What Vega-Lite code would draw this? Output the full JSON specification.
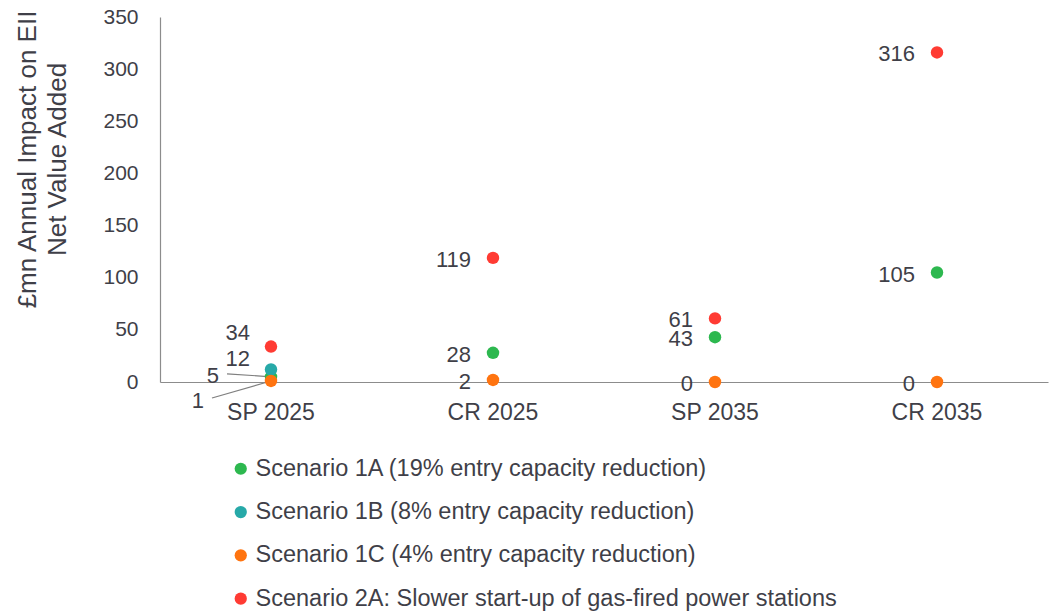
{
  "$schema": "https://vega.github.io/schema/vega-lite/v6.json",
  "autosize": {"type": "none"},
  "padding": {"left": 160, "top": 17, "right": 2, "bottom": 232},
  "width": 888,
  "height": 365,
  "background": "white",
  "config": {
    "view": {"stroke": null},
    "font": "Liberation Sans",
    "axis": {
      "domainColor": "#8c8c8c",
      "domainWidth": 1.2,
      "ticks": false,
      "grid": false,
      "labelColor": "#3f3f48",
      "labelFont": "Liberation Sans",
      "titleFont": "Liberation Sans",
      "titleColor": "#3f3f48",
      "titleFontWeight": "normal"
    },
    "legend": {
      "labelFont": "Liberation Sans",
      "labelColor": "#3f3f48"
    }
  },
  "data": {
    "values": [
      {"period": "SP 2025", "scenario": "Scenario 1A (19% entry capacity reduction)", "value": 5},
      {"period": "SP 2025", "scenario": "Scenario 1B (8% entry capacity reduction)", "value": 12},
      {"period": "SP 2025", "scenario": "Scenario 1C (4% entry capacity reduction)", "value": 1},
      {"period": "SP 2025", "scenario": "Scenario 2A: Slower start-up of gas-fired power stations", "value": 34},
      {"period": "CR 2025", "scenario": "Scenario 1A (19% entry capacity reduction)", "value": 28},
      {"period": "CR 2025", "scenario": "Scenario 1C (4% entry capacity reduction)", "value": 2},
      {"period": "CR 2025", "scenario": "Scenario 2A: Slower start-up of gas-fired power stations", "value": 119},
      {"period": "SP 2035", "scenario": "Scenario 1A (19% entry capacity reduction)", "value": 43},
      {"period": "SP 2035", "scenario": "Scenario 1C (4% entry capacity reduction)", "value": 0},
      {"period": "SP 2035", "scenario": "Scenario 2A: Slower start-up of gas-fired power stations", "value": 61},
      {"period": "CR 2035", "scenario": "Scenario 1A (19% entry capacity reduction)", "value": 105},
      {"period": "CR 2035", "scenario": "Scenario 1C (4% entry capacity reduction)", "value": 0},
      {"period": "CR 2035", "scenario": "Scenario 2A: Slower start-up of gas-fired power stations", "value": 316}
    ]
  },
  "encoding": {
    "x": {
      "field": "period",
      "type": "nominal",
      "sort": ["SP 2025", "CR 2025", "SP 2035", "CR 2035"],
      "scale": {"paddingInner": 0, "paddingOuter": 0},
      "axis": {"title": null, "labelAngle": 0, "labelFontSize": 23, "labelPadding": 19}
    },
    "y": {
      "field": "value",
      "type": "quantitative",
      "scale": {"domain": [0, 350], "nice": false},
      "axis": {
        "values": [0, 50, 100, 150, 200, 250, 300, 350],
        "labelFontSize": 21,
        "labelPadding": 22,
        "title": ["£mn Annual Impact on EII", "Net Value Added"],
        "titleFontSize": 26,
        "titleLineHeight": 30,
        "titleAngle": -90,
        "titleAlign": "center",
        "titleBaseline": "top",
        "titleX": -146,
        "titleY": 142
      }
    }
  },
  "layer": [
    {
      "transform": [{"filter": "datum.period === 'SP 2025' && indexof(datum.scenario, '1A') >= 0"}],
      "mark": {"type": "rule", "color": "#7f7f7f", "strokeWidth": 1.2, "x2Offset": -44, "y2Offset": -3},
      "encoding": {"x2": {"field": "period"}, "y2": {"field": "value"}}
    },
    {
      "transform": [{"filter": "datum.period === 'SP 2025' && indexof(datum.scenario, '1C') >= 0"}],
      "mark": {"type": "rule", "color": "#7f7f7f", "strokeWidth": 1.2, "x2Offset": -59, "y2Offset": 17},
      "encoding": {"x2": {"field": "period"}, "y2": {"field": "value"}}
    },
    {
      "mark": {"type": "point", "filled": true, "opacity": 1, "size": 155, "shape": "circle"},
      "encoding": {
        "color": {
          "field": "scenario",
          "type": "nominal",
          "scale": {
            "domain": [
              "Scenario 1A (19% entry capacity reduction)",
              "Scenario 1B (8% entry capacity reduction)",
              "Scenario 1C (4% entry capacity reduction)",
              "Scenario 2A: Slower start-up of gas-fired power stations"
            ],
            "range": ["#2db84f", "#27a9a8", "#ff7410", "#ff3b33"]
          },
          "legend": {
            "title": null,
            "orient": "none",
            "legendX": 69,
            "legendY": 440,
            "direction": "vertical",
            "symbolType": "circle",
            "symbolSize": 150,
            "symbolStrokeWidth": 0,
            "labelFontSize": 23.5,
            "labelOffset": 3,
            "rowPadding": 18.3,
            "padding": 0,
            "labelLimit": 800
          }
        },
        "order": {"field": "scenario"}
      }
    },
    {
      "transform": [{"filter": "datum.period !== 'SP 2025'"}],
      "mark": {"type": "text", "align": "right", "baseline": "middle", "dx": -22, "dy": 2, "fontSize": 22, "color": "#3f3f48"},
      "encoding": {"text": {"field": "value", "type": "quantitative"}}
    },
    {
      "transform": [{"filter": "datum.period === 'SP 2025' && indexof(datum.scenario, '2A') >= 0"}],
      "mark": {"type": "text", "align": "right", "baseline": "middle", "dx": -21, "dy": -13.5, "fontSize": 22, "color": "#3f3f48"},
      "encoding": {"text": {"field": "value", "type": "quantitative"}}
    },
    {
      "transform": [{"filter": "datum.period === 'SP 2025' && indexof(datum.scenario, '1B') >= 0"}],
      "mark": {"type": "text", "align": "right", "baseline": "middle", "dx": -21, "dy": -10, "fontSize": 22, "color": "#3f3f48"},
      "encoding": {"text": {"field": "value", "type": "quantitative"}}
    },
    {
      "transform": [{"filter": "datum.period === 'SP 2025' && indexof(datum.scenario, '1A') >= 0"}],
      "mark": {"type": "text", "align": "right", "baseline": "middle", "dx": -52, "dy": -1, "fontSize": 22, "color": "#3f3f48"},
      "encoding": {"text": {"field": "value", "type": "quantitative"}}
    },
    {
      "transform": [{"filter": "datum.period === 'SP 2025' && indexof(datum.scenario, '1C') >= 0"}],
      "mark": {"type": "text", "align": "right", "baseline": "middle", "dx": -67, "dy": 20, "fontSize": 22, "color": "#3f3f48"},
      "encoding": {"text": {"field": "value", "type": "quantitative"}}
    }
  ]
}
